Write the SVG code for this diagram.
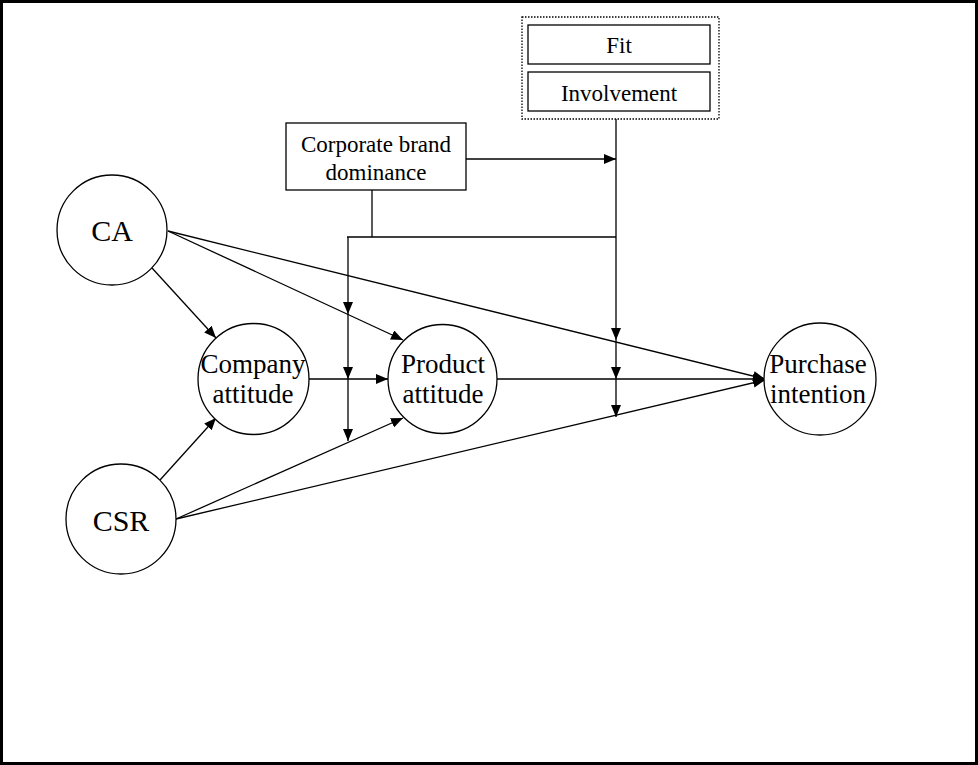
<svg xmlns="http://www.w3.org/2000/svg" width="978" height="765" viewBox="0 0 978 765">
  <defs>
    <marker id="arrow" viewBox="0 0 12 10" refX="12" refY="5" markerWidth="12" markerHeight="10" markerUnits="userSpaceOnUse" orient="auto">
      <path d="M0,0 L12,5 L0,10 Z" fill="#000"/>
    </marker>
    <style>
      .node { fill: #fff; stroke: #000; stroke-width: 1.3; }
      .box { fill: #fff; stroke: #000; stroke-width: 1.3; }
      .group { fill: none; stroke: #000; stroke-width: 1.3; stroke-dasharray: 1.5 1.5; }
      .edge { fill: none; stroke: #000; stroke-width: 1.3; }
      .arr { marker-end: url(#arrow); }
      text { font-family: "Liberation Serif", "Times New Roman", serif; fill: #000; text-anchor: middle; }
      .big { font-size: 30px; }
      .mid { font-size: 27px; }
      .small { font-size: 23px; }
    </style>
  </defs>

  <!-- frame -->
  <rect x="1.5" y="1.5" width="975" height="762" fill="#fff" stroke="#000" stroke-width="3"/>

  <!-- connectors -->
  <g id="connectors">
    <!-- construct paths -->
    <line class="edge arr" x1="152" y1="268" x2="216" y2="338"/>
    <line class="edge arr" x1="168" y1="231" x2="403" y2="340"/>
    <line class="edge arr" x1="168" y1="231" x2="765" y2="379"/>
    <line class="edge arr" x1="309" y1="379" x2="388" y2="379"/>
    <line class="edge arr" x1="497" y1="379" x2="765" y2="379"/>
    <line class="edge arr" x1="160" y1="480" x2="216" y2="418"/>
    <line class="edge arr" x1="176" y1="519" x2="403" y2="418"/>
    <line class="edge arr" x1="176" y1="519" x2="765" y2="380"/>

    <!-- moderator: corporate brand dominance -->
    <line class="edge arr" x1="466" y1="159" x2="616" y2="159"/>
    <polyline class="edge" points="372,190 372,237"/>
    <line class="edge" x1="347" y1="237" x2="616" y2="237"/>
    <line class="edge arr" x1="348" y1="237" x2="348" y2="314"/>
    <line class="edge arr" x1="348" y1="314" x2="348" y2="379"/>
    <line class="edge arr" x1="348" y1="379" x2="348" y2="441"/>

    <!-- moderator: fit / involvement -->
    <line class="edge arr" x1="616" y1="119" x2="616" y2="340"/>
    <line class="edge arr" x1="616" y1="340" x2="616" y2="379"/>
    <line class="edge arr" x1="616" y1="379" x2="616" y2="417"/>
  </g>

  <!-- nodes -->
  <g id="ca">
    <circle class="node" cx="112" cy="230" r="55"/>
    <text class="big" x="112" y="241">CA</text>
  </g>
  <g id="csr">
    <circle class="node" cx="121" cy="519" r="55"/>
    <text class="big" x="121" y="531">CSR</text>
  </g>
  <g id="company-attitude">
    <circle class="node" cx="253.5" cy="379" r="55.5"/>
    <text class="mid" x="253" y="373">Company</text>
    <text class="mid" x="253" y="403">attitude</text>
  </g>
  <g id="product-attitude">
    <circle class="node" cx="442.5" cy="379" r="54.5"/>
    <text class="mid" x="443" y="373">Product</text>
    <text class="mid" x="443" y="403">attitude</text>
  </g>
  <g id="purchase-intention">
    <circle class="node" cx="820" cy="379" r="56"/>
    <text class="mid" x="818" y="373">Purchase</text>
    <text class="mid" x="818" y="403">intention</text>
  </g>
  <g id="corporate-brand-dominance">
    <rect class="box" x="286" y="123" width="180" height="67"/>
    <text class="small" x="376" y="152">Corporate brand</text>
    <text class="small" x="376" y="180">dominance</text>
  </g>
  <g id="fit-involvement">
    <rect class="group" x="522" y="17" width="197" height="102"/>
    <g id="fit">
      <rect class="box" x="528" y="25" width="182" height="39"/>
      <text class="small" x="619" y="53">Fit</text>
    </g>
    <g id="involvement">
      <rect class="box" x="528" y="72" width="182" height="39"/>
      <text class="small" x="619" y="101">Involvement</text>
    </g>
  </g>
</svg>
